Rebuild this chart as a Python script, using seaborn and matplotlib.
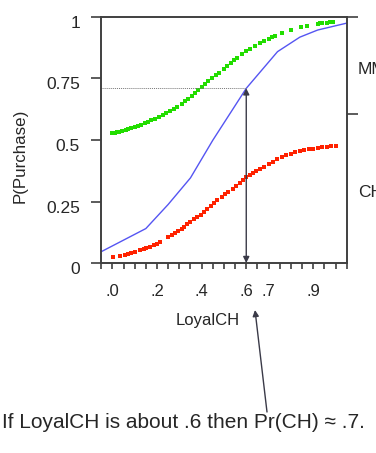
import matplotlib as mpl
mpl.use('Agg')
import matplotlib.pyplot as plt
import matplotlib.transforms as mtransforms
import seaborn as sns
import numpy as np
import pandas as pd

# fitted P(Purchase) for the MM group (green) at observed LoyalCH values
mm_loyal = [0.0, 0.01, 0.02, 0.03, 0.045, 0.06, 0.07, 0.085, 0.1, 0.115, 0.13,
            0.145, 0.16, 0.175, 0.19, 0.21, 0.225, 0.24, 0.26, 0.275, 0.29,
            0.31, 0.325, 0.34, 0.355, 0.37, 0.385, 0.4, 0.415, 0.43, 0.445,
            0.465, 0.48, 0.5, 0.515, 0.53, 0.545, 0.56, 0.58, 0.6, 0.615,
            0.64, 0.66, 0.68, 0.7, 0.715, 0.73, 0.76, 0.8, 0.845, 0.87, 0.92,
            0.93, 0.94, 0.96, 0.975, 0.99]
mm_prob = [0.527, 0.529, 0.531, 0.534, 0.537, 0.541, 0.545, 0.549, 0.553,
           0.558, 0.563, 0.568, 0.574, 0.58, 0.586, 0.594, 0.601, 0.609,
           0.619, 0.627, 0.635, 0.648, 0.658, 0.668, 0.679, 0.69, 0.702,
           0.714, 0.727, 0.738, 0.75, 0.763, 0.774, 0.788, 0.8, 0.812, 0.825,
           0.835, 0.848, 0.86, 0.869, 0.882, 0.893, 0.903, 0.912, 0.918,
           0.924, 0.934, 0.947, 0.958, 0.963, 0.973, 0.974, 0.975, 0.977,
           0.978, 0.979]

# fitted P(Purchase) for the CH group (red)
ch_loyal = [0.005, 0.035, 0.055, 0.07, 0.085, 0.1, 0.125, 0.14, 0.15, 0.17,
            0.185, 0.2, 0.215, 0.25, 0.265, 0.28, 0.295, 0.31, 0.32, 0.335,
            0.35, 0.365, 0.38, 0.395, 0.41, 0.425, 0.44, 0.455, 0.47, 0.49,
            0.505, 0.52, 0.54, 0.555, 0.57, 0.585, 0.6, 0.615, 0.63, 0.645,
            0.66, 0.68, 0.7, 0.72, 0.74, 0.76, 0.78, 0.8, 0.82, 0.84, 0.86,
            0.88, 0.9, 0.92, 0.94, 0.96, 0.98, 1.0]
ch_prob = [0.023, 0.028, 0.033, 0.038, 0.042, 0.045, 0.052, 0.057, 0.061,
           0.067, 0.072, 0.078, 0.084, 0.104, 0.112, 0.12, 0.13, 0.14, 0.148,
           0.157, 0.168, 0.178, 0.186, 0.195, 0.207, 0.218, 0.23, 0.245,
           0.257, 0.268, 0.28, 0.29, 0.302, 0.314, 0.326, 0.338, 0.348,
           0.357, 0.365, 0.374, 0.383, 0.392, 0.402, 0.412, 0.422, 0.431,
           0.439, 0.445, 0.45, 0.454, 0.458, 0.462, 0.465, 0.468, 0.471,
           0.473, 0.475, 0.476]

# overall curve (blue polyline)
all_loyal = [-0.05, 0.15, 0.25, 0.35, 0.45, 0.6, 0.74, 0.84, 0.92, 1.05]
all_prob = [0.046, 0.14, 0.238, 0.346, 0.499, 0.71, 0.859, 0.918, 0.947, 0.975]

# reading at LoyalCH = .6
read_x = 0.6
read_p = 0.71

x_labels = {0.0: '.0', 0.2: '.2', 0.4: '.4', 0.6: '.6', 0.7: '.7', 0.9: '.9'}
y_ticks = [0, 0.25, 0.5, 0.75, 1]
y_labels = ['0', '0.25', '0.5', '0.75', '1']

sns.set_theme(style='ticks')
plt.rcParams['font.family'] = ['Liberation Sans', 'DejaVu Sans']

spine_c = '#404040'
fig = plt.figure(figsize=(3.76, 4.53), dpi=100)
ax = fig.add_axes([0.268, 0.4194, 0.654, 0.5431])

mm = pd.DataFrame({'LoyalCH': mm_loyal, 'P': mm_prob})
ch = pd.DataFrame({'LoyalCH': ch_loyal, 'P': ch_prob})
al = pd.DataFrame({'LoyalCH': all_loyal, 'P': all_prob})

sns.lineplot(data=al, x='LoyalCH', y='P', color='#5555f2', lw=1.0, ax=ax)
sns.scatterplot(data=mm, x='LoyalCH', y='P', color='#22dd00', marker='s',
                s=5, linewidth=0, ax=ax)
sns.scatterplot(data=ch, x='LoyalCH', y='P', color='#ff2200', marker='s',
                s=7, linewidth=0, ax=ax)

ax.set_xlim(-0.052, 1.046)
ax.set_ylim(0, 1)

# dotted reading line and the double-headed arrow
ax.plot([-0.052, read_x], [read_p, read_p], ls=(0, (1, 1)), color='#777777', lw=0.7)
ax.annotate('', xy=(read_x, read_p), xytext=(read_x, 0),
            arrowprops=dict(arrowstyle='<|-|>', color='#3a3a48', lw=1.0,
                            mutation_scale=9, shrinkA=0, shrinkB=0))

xt = np.round(np.arange(-0.05, 1.051, 0.05), 2)
ax.set_xticks(xt)
ax.set_xticklabels([x_labels.get(round(float(v), 2), '') for v in xt], fontsize=12)
ax.set_yticks(y_ticks)
ax.set_yticklabels(y_labels, fontsize=12.5)
ax.tick_params(axis='x', length=4, width=1.2, color=spine_c, pad=11)
ax.tick_params(axis='y', length=7, width=1.2, color=spine_c, pad=8)
off = mtransforms.ScaledTranslation(0, -0.05, fig.dpi_scale_trans)
for lab in ax.get_yticklabels():
    lab.set_transform(lab.get_transform() + off)

for s in ax.spines.values():
    s.set_visible(True)
    s.set_color(spine_c)
    s.set_linewidth(1.4)

ax.set_xlabel('LoyalCH', fontsize=12)
ax.xaxis.set_label_coords(0.436, -0.203)
ax.set_ylabel('P(Purchase)', fontsize=12.2)
ax.yaxis.label.set_verticalalignment('center')
ax.yaxis.label.set_horizontalalignment('center')
ax.yaxis.set_label_coords(-0.328, 0.435)

# right-hand axis with group labels
ax2 = ax.twinx()
ax2.set_ylim(0, 1)
ax2.set_yticks([0.605, 1.0])
ax2.set_yticklabels([])
ax2.tick_params(axis='y', length=8, width=1.2, color=spine_c)
for s in ax2.spines.values():
    s.set_visible(False)
ax.text(1.046, 0.785, 'MM', transform=ax.transAxes, fontsize=12.5, va='center')
ax.text(1.046, 0.285, 'CH', transform=ax.transAxes, fontsize=12.5, va='center')

# note underneath
ax.annotate('', xy=(255 / 376, 1 - 310 / 453), xytext=(267 / 376, 1 - 412 / 453),
            xycoords='figure fraction', textcoords='figure fraction',
            arrowprops=dict(arrowstyle='-|>', color='#3a3a48', lw=1.0,
                            mutation_scale=9, shrinkA=0, shrinkB=0))
fig.text(2 / 376, 1 - 422 / 453, 'If LoyalCH is about .6 then Pr(CH) \u2248 .7.',
         fontsize=15, va='center', ha='left')

fig.savefig('out.png', dpi=100)
